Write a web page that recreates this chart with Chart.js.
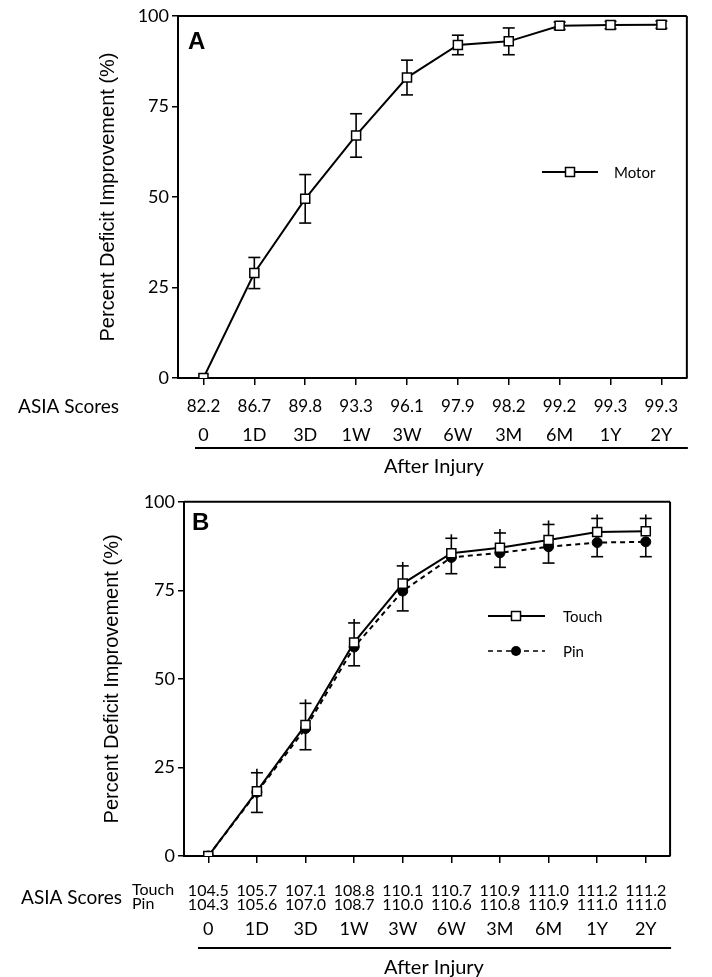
<!DOCTYPE html>
<html lang="en">
<head>
<meta charset="UTF-8">
<title>Percent Deficit Improvement After Injury</title>
<script src="https://cdn.jsdelivr.net/npm/chart.js"></script>
<style>
    body, html {
        margin: 0;
        padding: 0;
        background: #fff;
    }
    .panel {
        position: absolute;
        left: 0;
        width: 712px;
    }
    #panelA { top: 0; height: 488px; }
    #panelB { top: 488px; height: 489px; }
</style>
</head>
<body>
<div class="panel" id="panelA"><canvas id="chartA"></canvas></div>
<div class="panel" id="panelB"><canvas id="chartB"></canvas></div>

<script>
// time points after injury (x axis)
const timePoints = ['0', '1D', '3D', '1W', '3W', '6W', '3M', '6M', '1Y', '2Y'];
const yTicks = [0, 25, 50, 75, 100];

// panel A - motor
const motorMean = [0, 29, 49.5, 67, 83, 92, 93, 97.3, 97.5, 97.6];
const motorErr  = [0, 4.3, 6.7, 6, 4.8, 2.7, 3.7, 1, 1, 1];
const motorAsia = [82.2, 86.7, 89.8, 93.3, 96.1, 97.9, 98.2, 99.2, 99.3, 99.3];

// panel B - touch / pin
const touchMean = [0, 18.3, 37, 60.3, 76.9, 85.5, 87, 89.2, 91.5, 91.7];
const touchErr  = [0, 5.2, 6.1, 5.5, 5, 4.2, 4.2, 4.4, 3.8, 3.6];
const pinMean   = [0, 18, 36, 59, 74.8, 84.3, 85.6, 87.3, 88.5, 88.7];
const pinErr    = [0, 5.7, 6, 5.3, 5.6, 4.6, 4.1, 4.6, 4, 4.2];
const touchAsia = [104.5, 105.7, 107.1, 108.8, 110.1, 110.7, 110.9, 111.0, 111.2, 111.2];
const pinAsia   = [104.3, 105.6, 107.0, 108.7, 110.0, 110.6, 110.8, 110.9, 111.0, 111.0];

const SANS = "'Liberation Sans', Arial, sans-serif";
const LABEL = "Lato, 'Liberation Sans', sans-serif";

function line(ctx, x1, y1, x2, y2) {
    ctx.beginPath();
    ctx.moveTo(x1, y1);
    ctx.lineTo(x2, y2);
    ctx.stroke();
}

function text(ctx, str, x, y, font, align) {
    ctx.font = font;
    ctx.textAlign = align || 'center';
    ctx.textBaseline = 'middle';
    ctx.fillText(str, x, y);
}

function squareMarker(ctx, x, y) {
    ctx.lineWidth = 1.5;
    ctx.fillStyle = '#fff';
    ctx.fillRect(x - 4.5, y - 4.5, 9, 9);
    ctx.strokeRect(x - 4.5, y - 4.5, 9, 9);
    ctx.fillStyle = '#000';
}

function frameAndTitle(chart, letter, letterPos, titleX) {
    const ctx = chart.ctx;
    const a = chart.chartArea;
    ctx.save();
    ctx.strokeStyle = '#000';
    ctx.fillStyle = '#000';
    ctx.lineWidth = 2;
    line(ctx, a.left, a.top, a.right, a.top);
    line(ctx, a.right, a.top, a.right, a.bottom);

    ctx.font = 'bold 24px ' + SANS;
    ctx.textAlign = 'left';
    ctx.textBaseline = 'alphabetic';
    ctx.fillText(letter, letterPos[0], letterPos[1]);

    // y axis title
    ctx.save();
    ctx.translate(titleX, (a.top + a.bottom) / 2);
    ctx.rotate(-Math.PI / 2);
    text(ctx, 'Percent Deficit Improvement (%)', 0, 0, '20px ' + SANS);
    ctx.restore();
    ctx.restore();
}

function xAxisFooter(chart, lineY, lineX1, titleY) {
    const ctx = chart.ctx;
    ctx.save();
    ctx.strokeStyle = '#000';
    ctx.fillStyle = '#000';
    ctx.lineWidth = 2;
    line(ctx, lineX1, lineY, chart.chartArea.right + 1, lineY);
    text(ctx, 'After Injury', 434, titleY, '20px ' + LABEL);
    ctx.restore();
}

const motorPlugin = {
    id: 'motorDecor',
    beforeDatasetsDraw(chart) {
        const ctx = chart.ctx;
        const xs = chart.scales.x, ys = chart.scales.y;
        ctx.save();
        ctx.strokeStyle = '#000';
        ctx.lineWidth = 1.6;
        motorMean.forEach((m, i) => {
            if (!motorErr[i]) return;
            const x = xs.getPixelForValue(i);
            const yHi = ys.getPixelForValue(m + motorErr[i]);
            const yLo = ys.getPixelForValue(m - motorErr[i]);
            line(ctx, x, yHi, x, yLo);
            line(ctx, x - 6, yHi, x + 6, yHi);
            line(ctx, x - 6, yLo, x + 6, yLo);
        });
        ctx.restore();
    },
    afterDraw(chart) {
        const ctx = chart.ctx;
        const xs = chart.scales.x;
        frameAndTitle(chart, 'A', [188, 49], 108);

        ctx.save();
        ctx.strokeStyle = '#000';
        ctx.fillStyle = '#000';
        // legend
        ctx.lineWidth = 2;
        line(ctx, 542, 172, 598, 172);
        squareMarker(ctx, 570, 172);
        text(ctx, 'Motor', 614, 173, '15px ' + LABEL, 'left');

        // ASIA scores row
        text(ctx, 'ASIA Scores', 119, 407, '19px ' + LABEL, 'right');
        motorAsia.forEach((v, i) => {
            text(ctx, v.toFixed(1), xs.getPixelForValue(i), 407, '17px ' + LABEL);
        });
        ctx.restore();
        xAxisFooter(chart, 448, 195, 467);
    }
};

const sensoryPlugin = {
    id: 'sensoryDecor',
    beforeDatasetsDraw(chart) {
        const ctx = chart.ctx;
        const xs = chart.scales.x, ys = chart.scales.y;
        ctx.save();
        ctx.strokeStyle = '#000';
        ctx.lineWidth = 1.6;
        touchMean.forEach((m, i) => {
            if (!touchErr[i]) return;
            const x = xs.getPixelForValue(i);
            const yHi = ys.getPixelForValue(m + touchErr[i]);
            line(ctx, x, yHi - 4, x, ys.getPixelForValue(m));
            line(ctx, x - 6, yHi, x + 6, yHi);
        });
        pinMean.forEach((m, i) => {
            if (!pinErr[i]) return;
            const x = xs.getPixelForValue(i);
            const yLo = ys.getPixelForValue(m - pinErr[i]);
            line(ctx, x, ys.getPixelForValue(m), x, yLo);
            line(ctx, x - 6, yLo, x + 6, yLo);
        });
        ctx.restore();
    },
    afterDraw(chart) {
        const ctx = chart.ctx;
        const xs = chart.scales.x;
        frameAndTitle(chart, 'B', [192, 42], 112);

        ctx.save();
        ctx.strokeStyle = '#000';
        ctx.fillStyle = '#000';
        // legend
        ctx.lineWidth = 2;
        line(ctx, 488, 128, 545, 128);
        squareMarker(ctx, 516, 128);
        ctx.setLineDash([5, 4]);
        line(ctx, 488, 163, 545, 163);
        ctx.setLineDash([]);
        ctx.beginPath();
        ctx.arc(516, 163, 5, 0, Math.PI * 2);
        ctx.fill();
        text(ctx, 'Touch', 563, 129, '15px ' + LABEL, 'left');
        text(ctx, 'Pin', 563, 164, '15px ' + LABEL, 'left');

        // ASIA scores rows
        text(ctx, 'ASIA Scores', 122, 410, '19px ' + LABEL, 'right');
        text(ctx, 'Touch', 132, 402, '16px ' + LABEL, 'left');
        text(ctx, 'Pin', 132, 416, '16px ' + LABEL, 'left');
        touchAsia.forEach((v, i) => {
            text(ctx, v.toFixed(1), xs.getPixelForValue(i), 403, '16px ' + LABEL);
        });
        pinAsia.forEach((v, i) => {
            text(ctx, v.toFixed(1), xs.getPixelForValue(i), 417, '16px ' + LABEL);
        });
        ctx.restore();
        xAxisFooter(chart, 460, 198, 480);
    }
};

function panelOptions(cfg) {
    return {
        responsive: true,
        maintainAspectRatio: false,
        animation: false,
        events: [],
        layout: { padding: { left: 0, top: cfg.top, right: cfg.right, bottom: 0 } },
        plugins: { legend: { display: false }, tooltip: { enabled: false } },
        scales: {
            x: {
                type: 'category',
                offset: true,
                grid: { offset: false, drawOnChartArea: false, tickLength: 7, color: '#000', lineWidth: 1.5 },
                border: { display: true, color: '#000', width: 2 },
                ticks: {
                    color: '#000',
                    font: { family: LABEL, size: 18 },
                    padding: cfg.xPad,
                    maxRotation: 0,
                    autoSkip: false
                },
                afterFit: s => { s.height = cfg.xHeight; }
            },
            y: {
                min: 0,
                max: 100,
                afterBuildTicks: s => { s.ticks = yTicks.map(v => ({ value: v })); },
                grid: { drawOnChartArea: false, tickLength: 6, color: '#000', lineWidth: 1.5 },
                border: { display: true, color: '#000', width: 2 },
                ticks: { color: '#000', font: { family: LABEL, size: 18 }, padding: 3 },
                afterFit: s => { s.width = cfg.yWidth; }
            }
        }
    };
}

new Chart(document.getElementById('chartA').getContext('2d'), {
    type: 'line',
    data: {
        labels: timePoints,
        datasets: [{
            label: 'Motor',
            data: motorMean,
            borderColor: '#000',
            borderWidth: 2,
            tension: 0,
            pointStyle: 'rect',
            pointRadius: 6.4,
            pointBackgroundColor: '#fff',
            pointBorderColor: '#000',
            pointBorderWidth: 1.5
        }]
    },
    options: panelOptions({ top: 16, right: 15, yWidth: 178, xHeight: 110, xPad: 39 }),
    plugins: [motorPlugin]
});

new Chart(document.getElementById('chartB').getContext('2d'), {
    type: 'line',
    data: {
        labels: timePoints,
        datasets: [{
            label: 'Touch',
            data: touchMean,
            borderColor: '#000',
            borderWidth: 2,
            tension: 0,
            pointStyle: 'rect',
            pointRadius: 6.4,
            pointBackgroundColor: '#fff',
            pointBorderColor: '#000',
            pointBorderWidth: 1.5
        }, {
            label: 'Pin',
            data: pinMean,
            borderColor: '#000',
            borderWidth: 2,
            borderDash: [5, 4],
            tension: 0,
            pointStyle: 'circle',
            pointRadius: 5,
            pointBackgroundColor: '#000',
            pointBorderColor: '#000',
            pointBorderWidth: 1
        }]
    },
    options: panelOptions({ top: 7, right: 7, yWidth: 184, xHeight: 121, xPad: 55 }),
    plugins: [sensoryPlugin]
});
</script>
</body>
</html>
